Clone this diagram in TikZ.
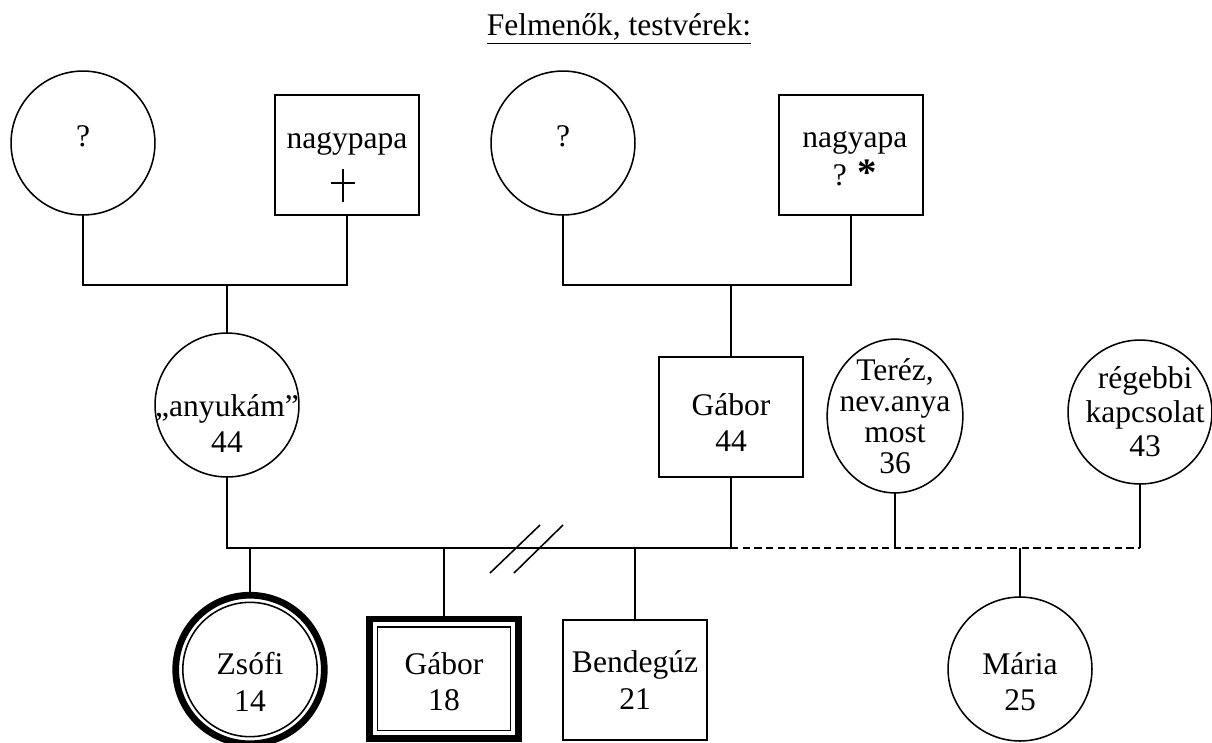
\documentclass[tikz,border=0pt]{standalone}
\usepackage{fontspec}
\setmainfont{Liberation Serif}
\usetikzlibrary{positioning, shapes.geometric, calc}
\tikzset{
	line/.style = {line width = 0.6pt},
	who/.style = {font = \fontsize{12.2}{14}\selectfont, align = center},
	female/.style = {
		circle, draw, line,
		minimum size = 55.7pt,
		inner sep = 0pt, outer sep = 0pt
	},
	male/.style = {
		rectangle, draw, line,
		minimum width = 55.7pt, minimum height = 46.4pt,
		inner sep = 0pt, outer sep = 0pt
	},
	partner/.style = {
		ellipse, draw, line,
		minimum width = 52.5pt, minimum height = 59.5pt,
		inner sep = 0pt, outer sep = 0pt
	},
	me/.style = {line width = 2.6pt}
}

\begin{document}
\begin{tikzpicture}[x = 0.387pt, y = -0.387pt]
	\useasboundingbox (0,0) rectangle (1212,742);

	\node[anchor = base, font = \fontsize{12.2}{14}\selectfont] (title) at (619,35) {\underline{Felmenők, testvérek:}};

	% nagyszulok
	\node[female, label = {[who, yshift = 2.5pt]center:?}]               (gm1) at (83,143)  {};
	\node[male, label = {[who, yshift = 4.5pt]center:nagypapa}]          (gp1) at (347,155) {};
	\node[female, label = {[who, yshift = 2.5pt]center:?}]               (gm2) at (563,143) {};
	\node[male, label = {[who, xshift = 1.5pt, yshift = -1.5pt]center:{nagyapa\\[0.7pt]? {\fontsize{15}{15}\bfseries *}}}] (gp2) at (851,155) {};
	\draw[line width = 0.9pt] ([shift = {(-4,14)}]gp1.center) -- ++(0,33);
	\draw[line width = 0.9pt] ([shift = {(-16,28)}]gp1.center) -- ++(24,0);

	% szulok
	\node[female, label = {[who, yshift = -7.2pt]center:{„anyukám”\\44}}] (anyu) at (227,405) {};
	\node[male, label = {[who, yshift = -2.1pt]center:{Gábor\\44}}]       (apa)  at (731,417) {};
	\node[partner, label = {[who, font = \fontsize{12.2}{12}\selectfont]center:{Teréz,\\nev.anya\\most\\36}}] (terez) at (895,416) {};
	\node[female, label = {[who, font = \fontsize{12.2}{13.2}\selectfont, xshift = 2pt]center:{régebbi\\kapcsolat\\43}}] (regi) at (1140,412) {};

	\coordinate (bar1)   at (227,285);
	\coordinate (bar2)   at (731,285);
	\coordinate (sibbar) at (731,548);
	\coordinate (exbar)  at (1140,548);

	\draw[line] (gm1.south) |- (bar1) -| (gp1.south);
	\draw[line] (bar1) -- (anyu.north);
	\draw[line] (gm2.south) |- (bar2) -| (gp2.south);
	\draw[line] (bar2) -- (apa.north);

	% testverek
	\node[female, me, minimum size = 57.5pt, label = {[who, yshift = -4.8pt]center:{Zsófi\\14}}] (zsofi) at (250,669.5) {};
	\node[male, me, minimum width = 57.4pt, minimum height = 46.2pt, label = {[who, yshift = -1pt]center:{Gábor\\18}}] (gabor) at (444,678.7) {};
	\node[male, label = {[who]center:{Bendegúz\\21}}] (bende) at (635,680) {};
	\node[female, label = {[who, yshift = -4.8pt]center:{Mária\\25}}] (maria) at (1020,669) {};
	\draw[line] (zsofi.center) circle (26pt);
	\draw[line] ([shift = {(3pt,-3pt)}]gabor.north west) rectangle ([shift = {(-3pt,3pt)}]gabor.south east);

	\draw[line] (anyu.south) |- (sibbar) -- (apa.south);
	\draw[line] (zsofi.north) -- (zsofi.north |- sibbar);
	\draw[line] (gabor.north) -- (gabor.north |- sibbar);
	\draw[line] (bende.north) -- (bende.north |- sibbar);
	\draw[line, dash pattern = on 2.8pt off 1.7pt] (sibbar) -- (exbar);
	\draw[line] (terez.south) -- (terez.south |- sibbar);
	\draw[line] (regi.south) -- (exbar);
	\draw[line] (maria.north) -- (maria.north |- sibbar);

	% valas
	\draw[line] (490,573) -- (540,525);
	\draw[line] (514,573) -- (563,525);
\end{tikzpicture}
\end{document}
